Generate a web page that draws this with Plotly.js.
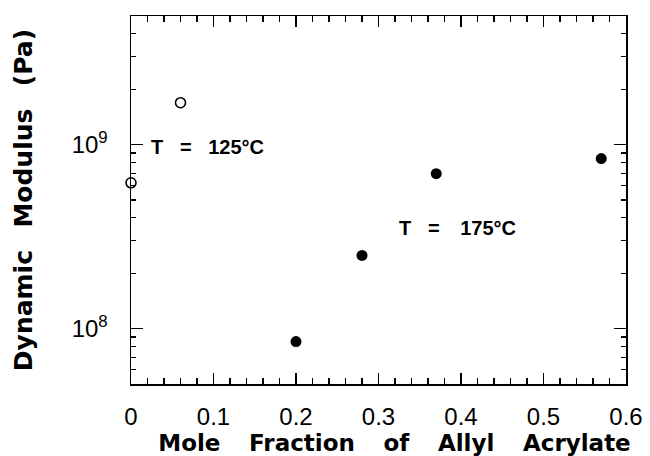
<!DOCTYPE html>
<html>
<head>
<meta charset="utf-8">
<script src="https://cdn.plot.ly/plotly-3.0.1.min.js"></script>
<style>body{margin:0;background:#fff;} #chart{width:650px;height:456px;}</style>
</head>
<body>
<div id="chart"></div>
<script>
// Data
const openX = [0.0, 0.06];            // T = 125 °C (open circles)
const openY = [6.2e8, 1.69e9];
const filledX = [0.20, 0.28, 0.37, 0.57]; // T = 175 °C (filled circles)
const filledY = [8.5e7, 2.5e8, 6.95e8, 8.4e8];
const xTickVals = [0, 0.1, 0.2, 0.3, 0.4, 0.5, 0.6];
const xTickText = ['0', '0.1', '0.2', '0.3', '0.4', '0.5', '0.6'];
const yTickVals = [1e8, 1e9];
const yTickText = ['10<sup>8</sup>', '10<sup>9</sup>'];
const yMinorVals = [6e7, 7e7, 8e7, 9e7, 2e8, 3e8, 4e8, 5e8, 6e8, 7e8, 8e8, 9e8, 2e9, 3e9, 4e9];

const NB = '\u00A0';
const TH = '\u2009';
const GAP = NB + NB + NB + TH;
const YGAP = NB + NB + TH;
const LEAD = '\u2060' + NB.repeat(4);
const font = "'Liberation Sans', Arial, sans-serif";
const titleFont = "'DejaVu Sans', 'Liberation Sans', sans-serif";

const traces = [
  {
    x: openX, y: openY, type: 'scatter', mode: 'markers',
    marker: {symbol: 'circle-open', size: 10, color: '#000', line: {width: 1.6, color: '#000'}},
    cliponaxis: false, showlegend: false
  },
  {
    x: filledX, y: filledY, type: 'scatter', mode: 'markers',
    marker: {symbol: 'circle', size: 11, color: '#000'},
    cliponaxis: false, showlegend: false
  }
];

const layout = {
  width: 650, height: 456,
  margin: {l: 131, r: 24, t: 16, b: 72},
  paper_bgcolor: '#fff', plot_bgcolor: '#fff',
  font: {family: font, color: '#000', size: 24},
  xaxis: {
    range: [0, 0.6], tickmode: 'array', tickvals: xTickVals, ticktext: xTickText,
    ticks: 'inside', ticklen: 11, tickwidth: 1.5, tickcolor: '#000',
    showline: true, linecolor: '#000', linewidth: 1.5, mirror: 'ticks',
    showgrid: false, zeroline: false,
    tickfont: {size: 24, family: font},
    ticklabelstandoff: 11,
    minor: {dtick: 0.02, ticks: 'inside', ticklen: 6, tickwidth: 1.2, tickcolor: '#000', showgrid: false},
    title: {text: LEAD + 'Mole' + GAP + 'Fraction' + GAP + 'of' + GAP + 'Allyl' + GAP + 'Acrylate',
            font: {size: 23, family: titleFont, weight: 'bold'}, standoff: 0}
  },
  yaxis: {
    type: 'log', range: [Math.log10(5e7), Math.log10(5e9)],
    tickmode: 'array', tickvals: yTickVals, ticktext: yTickText,
    ticks: 'inside', ticklen: 12, tickwidth: 1.5, tickcolor: '#000',
    showline: true, linecolor: '#000', linewidth: 1.5, mirror: 'ticks',
    showgrid: false, zeroline: false,
    tickfont: {size: 24, family: font},
    ticklabelstandoff: 17,
    minor: {tickmode: 'array', tickvals: yMinorVals, ticks: 'inside', ticklen: 5, tickwidth: 1.2, tickcolor: '#000', showgrid: false},
    title: {text: 'Dynamic' + YGAP + 'Modulus' + YGAP + '(Pa)',
            font: {size: 25, family: titleFont, weight: 'bold'}, standoff: 32}
  },
  annotations: [
    {x: 0.0224, y: 8.989, xref: 'x', yref: 'y', text: 'T' + NB+NB+NB + '=' + NB+NB+NB + '125°C',
     showarrow: false, xanchor: 'left', yanchor: 'middle', font: {size: 20, family: font, weight: 'bold'}},
    {x: 0.323, y: 8.5445, xref: 'x', yref: 'y', text: 'T' + NB+NB+NB + '=' + NB+NB+NB + TH + '175°C',
     showarrow: false, xanchor: 'left', yanchor: 'middle', font: {size: 20, family: font, weight: 'bold'}}
  ]
};

Plotly.newPlot('chart', traces, layout, {displayModeBar: false, staticPlot: true});
</script>
</body>
</html>
